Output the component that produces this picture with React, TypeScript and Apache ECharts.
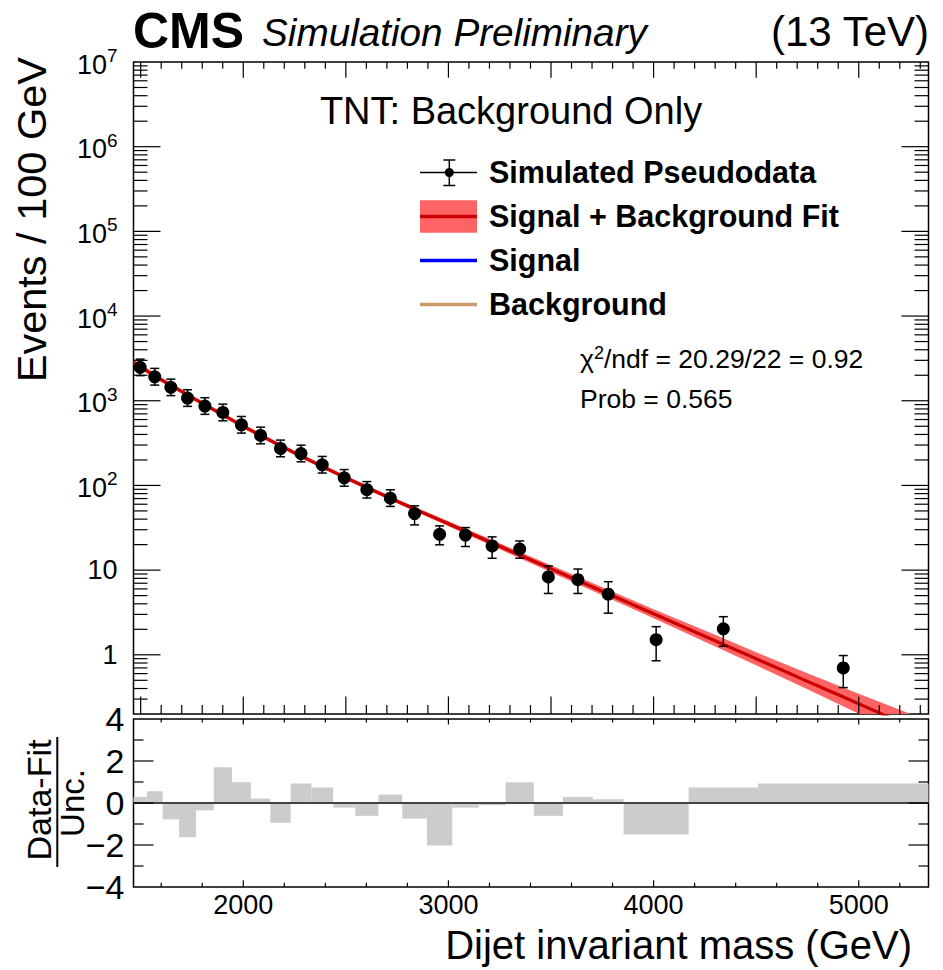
import React, { useEffect, useRef } from "react";
import * as echarts from "echarts";

const FONT = "'Liberation Sans', Arial, Helvetica, sans-serif";

// axis ranges
const massRange = [1465, 5340];
const yRange = [0.2, 1e7];
const pullRange = [-4, 4];

// variable-width mass bins (GeV)
const binEdges = [1465, 1530, 1607, 1687, 1770, 1856, 1945, 2037, 2132, 2231, 2332, 2438, 2546, 2659, 2775, 2895, 3019, 3147, 3279, 3416, 3558, 3704, 3854, 4171, 4509, 5340];

// simulated pseudodata (events / 100 GeV) and error bar ends
const dataVals = [2480, 1920, 1440, 1076, 866, 727, 520, 389, 273, 238, 175, 123, 89, 70.8, 46.6, 26.5, 25.9, 19.3, 17.7, 8.3, 7.7, 5.2, 1.51, 2.03, 0.7];
const dataErrHi = [3100, 2410, 1800, 1350, 1086, 912, 652, 488, 343, 299, 220, 154, 111, 88.8, 57.4, 33.3, 31.8, 24.7, 22.1, 11.2, 10.3, 7.3, 2.15, 2.82, 0.98];
const dataErrLo = [1980, 1530, 1150, 858, 691, 580, 415, 310, 218, 190, 140, 98, 71, 56.5, 34.2, 19.9, 19.0, 13.8, 13.8, 5.3, 5.3, 3.1, 0.85, 1.26, 0.41];

// (data - fit) / unc. per bin
const pulls = [0.29, 0.56, -0.78, -1.63, -0.35, 1.7, 0.99, 0.21, -0.94, 0.93, 0.74, -0.22, -0.61, 0.4, -0.74, -2.02, -0.22, -0.1, 0.99, -0.61, 0.29, 0.18, -1.5, 0.74, 0.93];

// signal + background fit with uncertainty band
const fitMass = [1465, 1600, 1750, 2000, 2250, 2500, 2750, 3000, 3250, 3500, 3750, 4000, 4250, 4500, 4750, 5000, 5250, 5340];
const fitVals = [2840, 1770, 1096, 500, 242, 123, 64.9, 35.2, 19.1, 10.4, 5.64, 3.05, 1.66, 0.897, 0.486, 0.264, 0.143, 0.117];
const fitUp = [3040, 1880, 1157, 528, 256, 130, 68.5, 37.7, 20.7, 11.44, 6.29, 3.45, 1.93, 1.071, 0.604, 0.347, 0.201, 0.176];
const fitDn = [2655, 1667, 1038, 473, 229, 116.5, 61.5, 32.9, 17.6, 9.45, 5.06, 2.7, 1.43, 0.751, 0.391, 0.201, 0.102, 0.078];

// tick labels
const xLabelValues = [2000, 3000, 4000, 5000];
const pullLabelValues = [-4, -2, 0, 2, 4];

const legendLabels = ["Simulated Pseudodata", "Signal + Background Fit", "Signal", "Background"];

function buildTopTicks() {
  const t: number[][] = [];
  for (let m = 1500; m <= 5300; m += 100) {
    const major = m % 500 === 0;
    t.push([m, yRange[0], 0, -(major ? 17.6 : 9)]);
    t.push([m, yRange[1], 0, major ? 15.7 : 6.7]);
  }
  for (let e = -1; e <= 6; e++) {
    for (let k = 1; k <= 9; k++) {
      const v = k * Math.pow(10, e);
      if (v <= yRange[0] * 1.0001 || v >= yRange[1] * 0.9999) continue;
      const len = k === 1 ? 27 : 14;
      t.push([massRange[0], v, len, 0]);
      t.push([massRange[1], v, -len, 0]);
    }
  }
  return t;
}

function buildPullTicks() {
  const t: number[][] = [];
  for (let m = 1600; m <= 5200; m += 200) {
    const major = m % 1000 === 0;
    t.push([m, pullRange[0], 0, -(major ? 6.7 : 4.3)]);
    t.push([m, pullRange[1], 0, major ? 5.5 : 3.5]);
  }
  for (let v = -3; v <= 3; v++) {
    const len = v % 2 === 0 ? 20 : 10;
    t.push([massRange[0], v, len, 0]);
    t.push([massRange[1], v, -len, 0]);
  }
  return t;
}

const tickRender = (params: any, api: any) => {
  const p = api.coord([api.value(0), api.value(1)]);
  const dx = api.value(2);
  const dy = api.value(3);
  return {
    type: "line",
    shape: { x1: p[0], y1: p[1], x2: p[0] + dx, y2: p[1] + dy },
    style: { stroke: "#000", lineWidth: 1.2 },
  };
};

function txt(x: number, y: number, text: string, size: number, opts: any = {}) {
  return {
    type: "text",
    x,
    y,
    rotation: opts.rotation || 0,
    silent: true,
    style: {
      text,
      fontSize: size,
      fontFamily: FONT,
      fontWeight: opts.weight || "normal",
      fontStyle: opts.style || "normal",
      fill: "#000",
      textAlign: opts.align || "left",
      textVerticalAlign: "middle",
      rich: opts.rich,
    },
  };
}

export default function App() {
  const ref = useRef<HTMLDivElement>(null);

  useEffect(() => {
    document.body.style.margin = "0";
    if (!ref.current) return;
    const chart = echarts.init(ref.current, null, { renderer: "svg" });

    const centers = dataVals.map((_, i) => (binEdges[i] + binEdges[i + 1]) / 2);
    const pointData = dataVals.map((v, i) => [centers[i], v]);
    const errData = dataVals.map((v, i) => [centers[i], v, dataErrLo[i], dataErrHi[i]]);
    const pullData = pulls.map((p, i) => [binEdges[i], binEdges[i + 1], p]);
    const fitData = fitMass.map((m, i) => [m, fitVals[i]]);

    const axisOff = {
      axisLine: { show: false },
      axisTick: { show: false },
      splitLine: { show: false },
      minorTick: { show: false },
      minorSplitLine: { show: false },
    };

    const legendX1 = 420;
    const legendX2 = 477;
    const rowY = [172.5, 216.5, 260.5, 304.5];

    const option: any = {
      animation: false,
      grid: [
        { left: 133.5, top: 62, width: 795, height: 652, show: true, borderColor: "#000", borderWidth: 1.5, backgroundColor: "rgba(0,0,0,0)", containLabel: false, outerBoundsMode: "none" },
        { left: 133.5, top: 719, width: 795, height: 168, show: true, borderColor: "#000", borderWidth: 1.5, backgroundColor: "rgba(0,0,0,0)", containLabel: false, outerBoundsMode: "none" },
      ],
      xAxis: [
        { gridIndex: 0, type: "value", min: massRange[0], max: massRange[1], ...axisOff, axisLabel: { show: false } },
        {
          gridIndex: 1, type: "value", min: massRange[0], max: massRange[1], ...axisOff,
          axisLabel: {
            customValues: xLabelValues, fontSize: 27, fontFamily: FONT, color: "#000", margin: 4,
            formatter: (v: number) => String(Math.round(v)),
          },
        },
      ],
      yAxis: [
        {
          gridIndex: 0, type: "log", logBase: 10, min: yRange[0], max: yRange[1], ...axisOff,
          axisLabel: {
            margin: 16,
            color: "#000",
            formatter: (v: number) => {
              const e = Math.log10(v);
              const r = Math.round(e);
              if (Math.abs(e - r) > 1e-6) return "";
              if (r === 0) return "{b|1}";
              if (r === 1) return "{b|10}";
              return "{b|10}{s|" + r + "}";
            },
            rich: {
              b: { fontSize: 27, fontFamily: FONT, color: "#000", verticalAlign: "bottom" },
              s: { fontSize: 19, fontFamily: FONT, color: "#000", verticalAlign: "bottom", padding: [0, 0, 13, 0] },
            },
          },
        },
        {
          gridIndex: 1, type: "value", min: pullRange[0], max: pullRange[1], interval: 2, ...axisOff,
          axisLabel: {
            customValues: pullLabelValues,
            margin: 9, fontSize: 34, fontFamily: FONT, color: "#000",
            formatter: (v: number) => (v < 0 ? "\u2212" + Math.abs(v) : String(v)),
          },
        },
      ],
      series: [
        {
          type: "custom",
          xAxisIndex: 0,
          yAxisIndex: 0,
          data: [[massRange[0], 1]],
          z: 1,
          renderItem: (params: any, api: any) => {
            const up = fitMass.map((m, i) => api.coord([m, fitUp[i]]));
            const dn = fitMass.map((m, i) => api.coord([m, fitDn[i]])).reverse();
            const cs = params.coordSys;
            return {
              type: "group",
              clipPath: { type: "rect", shape: { x: cs.x, y: cs.y, width: cs.width, height: cs.height } },
              children: [{ type: "polygon", shape: { points: up.concat(dn) }, style: { fill: "#ff6464" } }],
            };
          },
        },
        {
          type: "line",
          xAxisIndex: 0,
          yAxisIndex: 0,
          data: fitData,
          smooth: 0.3,
          showSymbol: false,
          symbol: "none",
          clip: true,
          z: 2,
          lineStyle: { color: "#cc0000", width: 3.2 },
        },
        {
          type: "custom",
          xAxisIndex: 0,
          yAxisIndex: 0,
          data: errData,
          z: 3,
          renderItem: (params: any, api: any) => {
            const x = api.value(0);
            const pHi = api.coord([x, api.value(3)]);
            const pLo = api.coord([x, api.value(2)]);
            const cap = 4.5;
            const st = { stroke: "#000", lineWidth: 1.5 };
            return {
              type: "group",
              children: [
                { type: "line", shape: { x1: pHi[0], y1: pHi[1], x2: pLo[0], y2: pLo[1] }, style: st },
                { type: "line", shape: { x1: pHi[0] - cap, y1: pHi[1], x2: pHi[0] + cap, y2: pHi[1] }, style: st },
                { type: "line", shape: { x1: pLo[0] - cap, y1: pLo[1], x2: pLo[0] + cap, y2: pLo[1] }, style: st },
              ],
            };
          },
        },
        {
          type: "scatter",
          xAxisIndex: 0,
          yAxisIndex: 0,
          data: pointData,
          symbol: "circle",
          symbolSize: 13,
          z: 4,
          itemStyle: { color: "#000", opacity: 1 },
        },
        {
          type: "custom",
          xAxisIndex: 0,
          yAxisIndex: 0,
          data: buildTopTicks(),
          z: 6,
          renderItem: tickRender,
        },
        {
          type: "custom",
          xAxisIndex: 1,
          yAxisIndex: 1,
          data: pullData,
          encode: { x: [0, 1], y: 2 },
          z: 1,
          renderItem: (params: any, api: any) => {
            const a = api.coord([api.value(0), 0]);
            const b = api.coord([api.value(1), api.value(2)]);
            return {
              type: "rect",
              shape: { x: a[0], y: Math.min(a[1], b[1]), width: b[0] - a[0], height: Math.abs(b[1] - a[1]) },
              style: { fill: "#cccccc" },
            };
          },
        },
        {
          type: "line",
          xAxisIndex: 1,
          yAxisIndex: 1,
          data: [[massRange[0], 0], [massRange[1], 0]],
          symbol: "none",
          z: 3,
          lineStyle: { color: "#444", width: 2 },
        },
        {
          type: "custom",
          xAxisIndex: 1,
          yAxisIndex: 1,
          data: buildPullTicks(),
          z: 6,
          renderItem: tickRender,
        },
      ],
      graphic: [
        txt(133, 31, "CMS", 50, { weight: "bold" }),
        txt(262, 32, "Simulation Preliminary", 38.7, { style: "italic" }),
        txt(929, 31, "(13 TeV)", 42, { align: "right" }),
        txt(511, 110.5, "TNT: Background Only", 38, { align: "center" }),
        // legend symbols
        { type: "line", silent: true, shape: { x1: legendX1, y1: rowY[0], x2: legendX2, y2: rowY[0] }, style: { stroke: "#000", lineWidth: 1.5 } },
        { type: "line", silent: true, shape: { x1: 449.3, y1: rowY[0] - 12.5, x2: 449.3, y2: rowY[0] + 13 }, style: { stroke: "#000", lineWidth: 1.5 } },
        { type: "line", silent: true, shape: { x1: 443.3, y1: rowY[0] - 12.5, x2: 455.3, y2: rowY[0] - 12.5 }, style: { stroke: "#000", lineWidth: 1.5 } },
        { type: "line", silent: true, shape: { x1: 443.3, y1: rowY[0] + 13, x2: 455.3, y2: rowY[0] + 13 }, style: { stroke: "#000", lineWidth: 1.5 } },
        { type: "circle", silent: true, shape: { cx: 449.3, cy: rowY[0], r: 4.5 }, style: { fill: "#000" } },
        { type: "rect", silent: true, shape: { x: legendX1, y: rowY[1] - 16.3, width: legendX2 - legendX1, height: 32.6 }, style: { fill: "#ff6464" } },
        { type: "line", silent: true, shape: { x1: legendX1, y1: rowY[1], x2: legendX2, y2: rowY[1] }, style: { stroke: "#cc0000", lineWidth: 3.5 } },
        { type: "line", silent: true, shape: { x1: legendX1, y1: rowY[2], x2: legendX2, y2: rowY[2] }, style: { stroke: "#0000ff", lineWidth: 3.5 } },
        { type: "line", silent: true, shape: { x1: legendX1, y1: rowY[3], x2: legendX2, y2: rowY[3] }, style: { stroke: "#cd9b6a", lineWidth: 3.5 } },
        ...legendLabels.map((l, i) => txt(489, rowY[i] - 0.5, l, 30.5, { weight: "bold" })),
        txt(580, 358, "{a|\u03c7}{s|2}{a|/ndf = 20.29/22 = 0.92}", 26.5, {
          rich: {
            a: { fontSize: 26.5, fontFamily: FONT, fill: "#000", verticalAlign: "bottom" },
            s: { fontSize: 18, fontFamily: FONT, fill: "#000", verticalAlign: "bottom", padding: [0, 0, 10, 0] },
          },
        }),
        txt(580, 399, "Prob = 0.565", 26.5),
        // axis titles
        txt(912, 945, "Dijet invariant mass (GeV)", 40, { align: "right" }),
        txt(31.5, 57, "Events / 100 GeV", 41.5, { align: "right", rotation: Math.PI / 2 }),
        txt(38.5, 800, "Data-Fit", 34, { align: "center", rotation: Math.PI / 2 }),
        txt(72, 803, "Unc.", 33, { align: "center", rotation: Math.PI / 2 }),
        { type: "line", silent: true, shape: { x1: 57.3, y1: 737, x2: 57.3, y2: 867 }, style: { stroke: "#000", lineWidth: 2 } },
      ],
    };

    chart.setOption(option);
    return () => chart.dispose();
  }, []);

  return <div ref={ref} style={{ width: 943, height: 970 }} />;
}
